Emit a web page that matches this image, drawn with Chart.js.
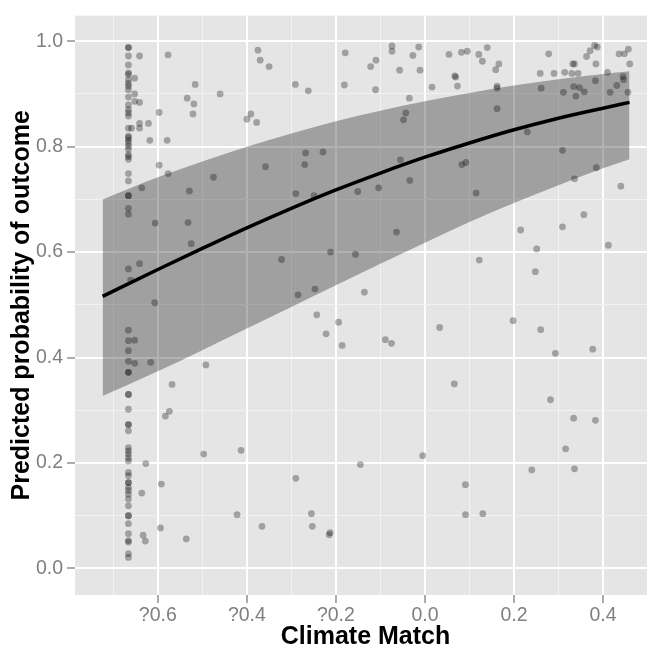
<!DOCTYPE html>
<html>
<head>
<meta charset="utf-8">
<script src="https://cdn.jsdelivr.net/npm/chart.js@4.4.0/dist/chart.umd.min.js"></script>
<style>
html,body{margin:0;padding:0;background:#ffffff;overflow:hidden;}
#wrap{width:647px;height:648px;overflow:hidden;}
</style>
</head>
<body>
<div id="wrap"><canvas id="c" width="660" height="648"></canvas></div>
<script>
// ---- tick definitions ----
const xTickValues = [-0.7,-0.6,-0.5,-0.4,-0.3,-0.2,-0.1,0,0.1,0.2,0.3,0.4,0.5];
const xMajorValues = [-0.6,-0.4,-0.2,0,0.2,0.4];
const xTickLabels = ['?0.6','?0.4','?0.2','0.0','0.2','0.4'];
const yTickValues = [0,0.1,0.2,0.3,0.4,0.5,0.6,0.7,0.8,0.9,1.0];
const yMajorValues = [0,0.2,0.4,0.6,0.8,1.0];
const yTickLabels = ['0.0','0.2','0.4','0.6','0.8','1.0'];

// ---- fitted curve and confidence band ----
const fitX   = [-0.724,-0.6,-0.5,-0.4,-0.3,-0.2,-0.1,0,0.1,0.2,0.3,0.4,0.4595];
const fitY   = [0.516,0.567,0.607,0.646,0.683,0.718,0.750,0.780,0.807,0.832,0.854,0.873,0.884];
const lowerY = [0.327,0.374,0.414,0.455,0.496,0.537,0.578,0.618,0.657,0.693,0.727,0.759,0.776];
const upperY = [0.700,0.742,0.772,0.800,0.825,0.848,0.868,0.886,0.902,0.916,0.928,0.938,0.943];

// ---- observations at the minimum climate match ----
const edgeX = -0.666;
const edgeY = [0.988,0.988,0.972,0.955,0.940,0.937,0.927,0.920,0.915,0.908,0.894,0.879,0.870,0.864,0.858,
  0.835,0.820,0.817,0.812,0.807,0.801,0.795,0.785,0.781,0.776,0.749,0.735,0.707,0.707,0.683,0.672,0.568,
  0.452,0.432,0.413,0.393,0.372,0.372,0.330,0.330,0.302,0.273,0.273,0.261,0.229,0.223,0.217,0.210,0.204,
  0.182,0.176,0.163,0.163,0.154,0.148,0.141,0.132,0.119,0.100,0.100,0.085,0.066,0.053,0.050,0.028,0.021];

// ---- other observations ----
const otherX = [-0.661,-0.652,-0.641,-0.652,-0.652,-0.641,-0.659,-0.641,-0.641,-0.621,-0.618,-0.579,-0.577,-0.597,-0.597,
  -0.577,-0.636,-0.606,-0.641,-0.607,-0.534,-0.516,-0.519,-0.521,-0.460,-0.475,-0.529,-0.532,-0.525,-0.375,
  -0.370,-0.350,-0.400,-0.391,-0.378,-0.358,-0.322,-0.291,-0.262,-0.268,-0.270,-0.290,-0.285,-0.247,-0.243,
  -0.229,-0.249,-0.652,-0.652,-0.616,-0.492,-0.568,-0.574,-0.583,-0.497,-0.413,-0.627,-0.592,-0.636,-0.290,
  -0.422,-0.255,-0.253,-0.366,-0.594,-0.633,-0.628,-0.536,-0.222,-0.194,-0.186,-0.089,-0.075,0.033,0.066,
  -0.005,-0.145,0.091,0.091,-0.213,-0.215,0.198,0.260,0.293,0.377,0.282,0.334,0.383,0.316,0.240,
  0.336,0.130,-0.179,-0.074,-0.074,-0.014,-0.027,-0.110,-0.122,-0.057,-0.011,0.054,0.082,0.095,0.121,
  0.069,0.067,0.073,0.016,-0.035,-0.181,-0.111,-0.043,-0.048,-0.055,0.083,0.092,-0.034,-0.104,-0.151,
  0.115,-0.064,-0.212,-0.156,0.122,-0.136,0.140,0.129,0.166,0.159,0.162,0.162,0.162,0.278,0.259,
  0.290,0.314,0.330,0.344,0.332,0.336,0.384,0.363,0.371,0.381,0.387,0.436,0.448,0.457,0.460,
  0.410,0.445,0.446,0.431,0.416,0.456,0.383,0.261,0.311,0.334,0.347,0.358,0.339,0.230,0.309,
  0.385,0.336,0.440,0.357,0.215,0.309,0.251,0.412,0.248];
const otherY = [0.547,0.930,0.972,0.900,0.886,0.884,0.835,0.844,0.835,0.844,0.812,0.812,0.974,0.865,0.765,
  0.749,0.722,0.655,0.578,0.504,0.892,0.918,0.881,0.862,0.900,0.742,0.716,0.656,0.616,0.983,
  0.964,0.952,0.852,0.862,0.846,0.762,0.586,0.918,0.906,0.788,0.766,0.711,0.519,0.530,0.481,
  0.790,0.707,0.433,0.389,0.391,0.386,0.349,0.298,0.289,0.217,0.224,0.199,0.160,0.143,0.171,
  0.102,0.104,0.080,0.080,0.077,0.063,0.052,0.056,0.445,0.467,0.423,0.434,0.427,0.457,0.350,
  0.214,0.197,0.159,0.102,0.068,0.064,0.470,0.453,0.408,0.416,0.320,0.285,0.281,0.227,0.187,
  0.189,0.104,0.978,0.991,0.981,0.989,0.973,0.964,0.952,0.945,0.945,0.975,0.979,0.981,0.975,
  0.932,0.934,0.915,0.913,0.892,0.917,0.908,0.864,0.851,0.775,0.766,0.770,0.736,0.722,0.715,
  0.712,0.638,0.600,0.596,0.585,0.524,0.988,0.962,0.957,0.946,0.915,0.911,0.872,0.976,0.939,
  0.939,0.941,0.939,0.939,0.957,0.957,0.957,0.971,0.982,0.992,0.989,0.976,0.976,0.985,0.957,
  0.941,0.933,0.927,0.916,0.903,0.903,0.925,0.911,0.903,0.914,0.912,0.904,0.896,0.828,0.793,
  0.760,0.739,0.725,0.671,0.642,0.648,0.606,0.613,0.563];

// ---- build chart ----
const FONT = "'Liberation Sans', Arial, Helvetica, sans-serif";
function majorIndex(list, v) { return list.findIndex(m => Math.abs(m - v) < 1e-6); }
function tickVal(ctx) { return ctx.tick ? ctx.tick.value : NaN; }

const pts = edgeY.map(y => ({x: edgeX, y}))
  .concat(otherX.map((x, i) => ({x, y: otherY[i]})));

const panelBg = {
  id: 'panelBg',
  beforeDraw(chart) {
    const {ctx, chartArea: a} = chart;
    ctx.save();
    ctx.fillStyle = '#e5e5e5';
    ctx.fillRect(a.left, a.top, a.right - a.left, a.bottom - a.top);
    ctx.restore();
  }
};

function gridOpts(majors) {
  return {
    color: c => majorIndex(majors, tickVal(c)) >= 0 ? '#ffffff' : '#f2f2f2',
    lineWidth: c => majorIndex(majors, tickVal(c)) >= 0 ? 2 : 1,
    tickColor: c => majorIndex(majors, tickVal(c)) >= 0 ? '#7f7f7f' : 'rgba(0,0,0,0)',
    tickLength: 8,
    tickWidth: 1.3,
    drawTicks: true
  };
}

new Chart(document.getElementById('c'), {
  type: 'line',
  data: {
    datasets: [
      { label: 'fit', data: fitX.map((x, i) => ({x, y: fitY[i]})),
        borderColor: '#000000', borderWidth: 3.5, pointRadius: 0, fill: false,
        cubicInterpolationMode: 'monotone' },
      { label: 'lower', data: fitX.map((x, i) => ({x, y: lowerY[i]})),
        borderColor: 'rgba(0,0,0,0)', borderWidth: 0, pointRadius: 0, fill: false,
        cubicInterpolationMode: 'monotone' },
      { label: 'upper', data: fitX.map((x, i) => ({x, y: upperY[i]})),
        borderColor: 'rgba(0,0,0,0)', borderWidth: 0, pointRadius: 0, fill: '-1',
        backgroundColor: 'rgba(0,0,0,0.3)', cubicInterpolationMode: 'monotone' },
      { label: 'obs', data: pts, showLine: false, pointRadius: 3.4,
        pointBackgroundColor: 'rgba(0,0,0,0.3)', pointBorderWidth: 0,
        pointBorderColor: 'rgba(0,0,0,0)' }
    ]
  },
  options: {
    responsive: false,
    animation: false,
    events: [],
    layout: { padding: { top: 12, right: 1, left: 0, bottom: 0 } },
    plugins: { legend: { display: false }, tooltip: { enabled: false } },
    scales: {
      x: {
        type: 'linear', min: -0.786, max: 0.519,
        afterBuildTicks: s => { s.ticks = xTickValues.map(v => ({value: v})); },
        afterFit: s => { s.height = 53; },
        ticks: {
          autoSkip: false, maxRotation: 0, minRotation: 0, padding: 1,
          color: '#7f7f7f', font: { family: FONT, size: 19.5 },
          callback: v => { const i = majorIndex(xMajorValues, v); return i >= 0 ? xTickLabels[i] : ''; }
        },
        grid: gridOpts(xMajorValues),
        border: { display: false },
        title: { display: true, text: 'Climate Match', color: '#000000',
          font: { family: FONT, size: 25, weight: 'bold', lineHeight: 0.9 }, padding: 0 }
      },
      y: {
        type: 'linear', min: -0.0503, max: 1.0484,
        afterBuildTicks: s => { s.ticks = yTickValues.map(v => ({value: v})); },
        afterFit: s => { s.width = 75; },
        ticks: {
          autoSkip: false, padding: 4,
          color: '#7f7f7f', font: { family: FONT, size: 19.5 },
          callback: v => { const i = majorIndex(yMajorValues, v); return i >= 0 ? yTickLabels[i] : ''; }
        },
        grid: gridOpts(yMajorValues),
        border: { display: false },
        title: { display: true, text: 'Predicted probability of outcome', color: '#000000',
          font: { family: FONT, size: 25, weight: 'bold', lineHeight: 1 }, padding: { top: 10, bottom: 0 } }
      }
    }
  },
  plugins: [panelBg]
});
</script>
</body>
</html>
